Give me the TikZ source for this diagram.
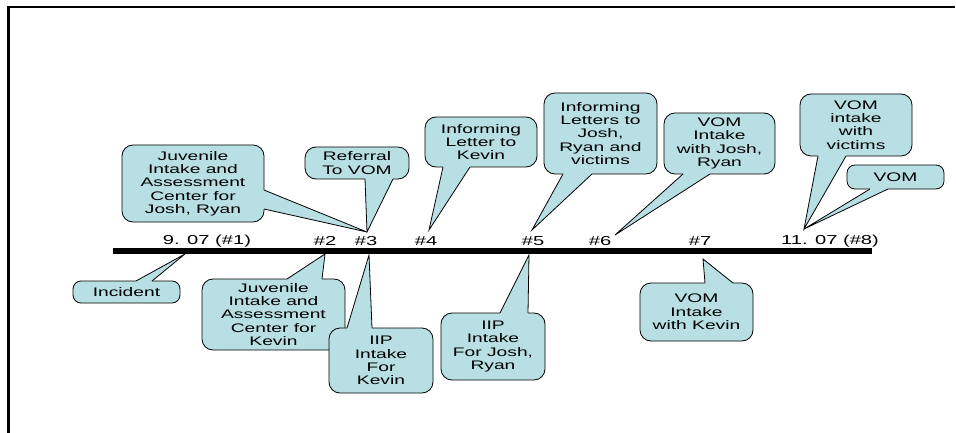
\documentclass[tikz,border=0pt]{standalone}
\usepackage{fontspec}
\newfontfamily\widesans{Liberation Sans}[FakeStretch=1.55]
\usetikzlibrary{calc}

\definecolor{callfill}{RGB}{184,223,227}

\tikzset{
  callbox/.style={draw=black, line width=0.8pt, fill=callfill, rounded corners=11pt,
    inner sep=0pt, align=center, font=\widesans\fontsize{12.4}{13.3}\selectfont},
  ptrside/.style={draw=black, line width=0.8pt, line join=miter},
  ticklabel/.style={inner sep=0pt, font=\widesans\fontsize{13}{15}\selectfont},
  frameline/.style={line width=2.2pt},
  timebar/.style={line width=6pt}
}

% pointer wedge of a callout: base points #1 and #2 on the box edge,
% #3 = small shift into the box (hides the border under the wedge), #4 = tip
\newcommand\wedgeptr[4]{%
  \fill[callfill] ($#1+#3$) -- #1 -- (#4) -- #2 -- ($#2+#3$) -- cycle;
  \draw[ptrside] #1 -- (#4) -- #2;
}

\begin{document}
\begin{tikzpicture}[x=1pt,y=-1pt]
\useasboundingbox (0,0) rectangle (956,433);

% open frame (top and left only)
\draw[frameline] (8.5,433) -- (8.5,7) -- (955,7);

% timeline
\coordinate (barL) at (113,250.5);
\coordinate (barR) at (872,250.5);
\draw[timebar] (barL) -- (barR);

% date / step labels
\node[ticklabel] (d1) at (207,241) {9. 07 (\#1)};
\node[ticklabel] (d2) at (325,241) {\#2};
\node[ticklabel] (d3) at (366,241) {\#3};
\node[ticklabel] (d4) at (426,241) {\#4};
\node[ticklabel] (d5) at (533,241) {\#5};
\node[ticklabel] (d6) at (600,241) {\#6};
\node[ticklabel] (d7) at (700,241) {\#7};
\node[ticklabel] (d8) at (830,241) {11. 07 (\#8)};

% pointer tips
\coordinate (t3up) at (367,232);
\coordinate (t4up) at (429,230);
\coordinate (t5up) at (532,230);
\coordinate (t6up) at (615,235);
\coordinate (t8up) at (804,229);
\coordinate (t1dn) at (185,254);
\coordinate (t2dn) at (325,254);
\coordinate (t3dn) at (369,255);
\coordinate (t5dn) at (529,255);
\coordinate (t7dn) at (703,259);

% callouts above the timeline
\node[callbox, minimum width=142, minimum height=77] (cA) at (193,183.5)
  {Juvenile\\Intake and\\Assessment\\Center for\\Josh, Ryan};
\wedgeptr{(264,190)}{(264,209)}{(-2,0)}{t3up}

\node[callbox, minimum width=104, minimum height=32] (cB) at (357,163)
  {Referral\\To VOM};
\wedgeptr{(365,179)}{(393,179)}{(0,-2)}{t3up}

\node[callbox, minimum width=112, minimum height=50] (cC) at (481,142)
  {Informing\\Letter to\\Kevin};
\wedgeptr{(443,167)}{(470,167)}{(0,-2)}{t4up}

\node[callbox, minimum width=113, minimum height=81] (cD) at (600.5,133.5)
  {Informing\\Letters to\\Josh,\\Ryan and\\victims};
\wedgeptr{(563,174)}{(592,174)}{(0,-2)}{t5up}

\node[callbox, minimum width=111, minimum height=61] (cE) at (719.5,143.5)
  {VOM\\Intake\\with Josh,\\Ryan};
\wedgeptr{(683,174)}{(710,174)}{(0,-2)}{t6up}

\node[callbox, minimum width=112, minimum height=62] (cF) at (856,125)
  {VOM\\intake\\with\\victims};
\wedgeptr{(818,156)}{(846,156)}{(0,-2)}{t8up}

\node[callbox, minimum width=97, minimum height=24, rounded corners=8pt] (cG) at (895.5,177)
  {VOM};
\wedgeptr{(870,189)}{(888,189)}{(0,-2)}{t8up}

% callouts below the timeline
\node[callbox, minimum width=107, minimum height=22, rounded corners=8pt] (cH) at (126.5,292)
  {Incident};
\wedgeptr{(136,281)}{(152,281)}{(0,2)}{t1dn}

\node[callbox, minimum width=143, minimum height=71] (cI) at (273.5,314.5)
  {Juvenile\\Intake and\\Assessment\\Center for\\Kevin};
\wedgeptr{(287,279)}{(322,279)}{(0,2)}{t2dn}

\node[callbox, minimum width=104, minimum height=65] (cJ) at (381,360.5)
  {IIP\\Intake\\For\\Kevin};
\wedgeptr{(347,328)}{(372,328)}{(0,2)}{t3dn}

\node[callbox, minimum width=104, minimum height=67] (cK) at (493,346.5)
  {IIP\\Intake\\For Josh,\\Ryan};
\wedgeptr{(500,313)}{(528,313)}{(0,2)}{t5dn}

\node[callbox, minimum width=113, minimum height=58] (cL) at (696.5,312)
  {VOM\\Intake\\with Kevin};
\wedgeptr{(705,283)}{(733,283)}{(0,2)}{t7dn}
\end{tikzpicture}
\end{document}
